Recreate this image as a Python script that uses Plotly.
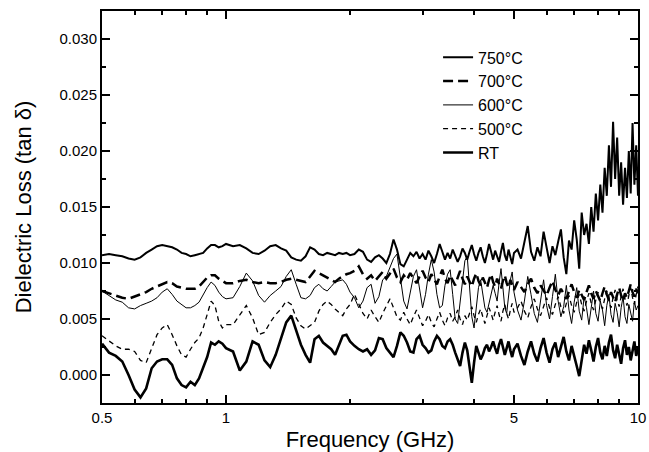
"""Dielectric loss (tan delta) against frequency, RT and annealed at 500-750 C"""

import math

import plotly.graph_objects as go

FONT = "Arial, Liberation Sans, Helvetica, sans-serif"

# frequency grid, GHz
freq_ghz = [
    0.50, 0.52, 0.54, 0.56, 0.58, 0.60, 0.62, 0.64, 0.66, 0.68, 0.70, 0.72, 0.74,
    0.76, 0.78, 0.80, 0.82, 0.84, 0.86, 0.88, 0.90, 0.92, 0.94, 0.96, 0.98, 1.00,
    1.04, 1.08, 1.12, 1.16, 1.20, 1.24, 1.28, 1.32, 1.36, 1.40, 1.44, 1.48, 1.52,
    1.56, 1.60, 1.64, 1.68, 1.72, 1.76, 1.80, 1.84, 1.88, 1.92, 1.96, 2.00,
    2.05, 2.10, 2.15, 2.20, 2.25, 2.30, 2.35, 2.40, 2.45, 2.50, 2.55, 2.60, 2.65,
    2.70, 2.75, 2.80, 2.85, 2.90, 2.95, 3.00, 3.05, 3.10, 3.15, 3.20, 3.25, 3.30,
    3.35, 3.40, 3.45, 3.50, 3.55, 3.60, 3.65, 3.70, 3.75, 3.80, 3.85, 3.90, 3.95,
    4.00, 4.05, 4.10, 4.15, 4.20, 4.25, 4.30, 4.35, 4.40, 4.45, 4.50, 4.55, 4.60,
    4.65, 4.70, 4.75, 4.80, 4.85, 4.90, 4.95, 5.00,
    5.1, 5.2, 5.3, 5.4, 5.5, 5.6, 5.7, 5.8, 5.9, 6.0, 6.1, 6.2, 6.3, 6.4, 6.5,
    6.6, 6.7, 6.8, 6.9, 7.0, 7.1, 7.2, 7.3, 7.4, 7.5, 7.6, 7.7, 7.8, 7.9, 8.0,
    8.1, 8.2, 8.3, 8.4, 8.5, 8.6, 8.7, 8.8, 8.9, 9.0, 9.1, 9.2, 9.3, 9.4, 9.5,
    9.6, 9.7, 9.8, 9.9, 10.0,
]

loss_750c = [
    0.0107, 0.0108, 0.0107, 0.0106, 0.0104, 0.0103, 0.0105, 0.0109, 0.0112, 0.0115, 0.0116, 0.0115, 0.0114,
    0.0112, 0.0109, 0.0108, 0.0106, 0.0107, 0.0108, 0.0109, 0.0113, 0.0116, 0.0116, 0.0114, 0.0115, 0.0117,
    0.0115, 0.0116, 0.0113, 0.0109, 0.0108, 0.0111, 0.0115, 0.0116, 0.0113, 0.0111, 0.0105, 0.0103, 0.0102,
    0.0106, 0.0114, 0.0112, 0.0108, 0.0107, 0.0109, 0.0108, 0.0107, 0.0109, 0.0108, 0.0109, 0.0107,
    0.0108, 0.0112, 0.0110, 0.0103, 0.0101, 0.0105, 0.0107, 0.0104, 0.0100, 0.0108, 0.0121, 0.0112, 0.0099,
    0.0097, 0.0103, 0.0109, 0.0106, 0.0110, 0.0104, 0.0108, 0.0103, 0.0111, 0.0106, 0.0100, 0.0108, 0.0117,
    0.0110, 0.0103, 0.0109, 0.0104, 0.0112, 0.0107, 0.0101, 0.0106, 0.0113, 0.0109, 0.0103, 0.0110, 0.0116,
    0.0108, 0.0102, 0.0109, 0.0114, 0.0106, 0.0100, 0.0108, 0.0117, 0.0110, 0.0103, 0.0111, 0.0106, 0.0101,
    0.0110, 0.0118, 0.0107, 0.0102, 0.0112, 0.0105, 0.0099, 0.0109,
    0.0112, 0.0104, 0.0118, 0.0133, 0.0110, 0.0102, 0.0114, 0.0106, 0.0128, 0.0112, 0.0100, 0.0115, 0.0107,
    0.0119, 0.0130, 0.0105, 0.0090, 0.0120, 0.0112, 0.0138, 0.0121, 0.0095, 0.0145, 0.0125, 0.0135, 0.0117,
    0.0150, 0.0128, 0.0162, 0.0138, 0.0170, 0.0145, 0.0185, 0.0160, 0.0205, 0.0168, 0.0226, 0.0175, 0.0212,
    0.0160, 0.0190, 0.0152, 0.0185, 0.0158, 0.0200, 0.0162, 0.0225, 0.0170, 0.0205, 0.0160,
]

loss_700c = [
    0.0075, 0.0073, 0.0071, 0.0069, 0.0068, 0.0070, 0.0072, 0.0074, 0.0077, 0.0079, 0.0081, 0.0083, 0.0082,
    0.0079, 0.0078, 0.0077, 0.0077, 0.0077, 0.0079, 0.0083, 0.0087, 0.0089, 0.0089, 0.0086, 0.0084, 0.0082,
    0.0082, 0.0084, 0.0085, 0.0083, 0.0082, 0.0083, 0.0082, 0.0082, 0.0083, 0.0085, 0.0086, 0.0085, 0.0084,
    0.0083, 0.0088, 0.0093, 0.0091, 0.0089, 0.0087, 0.0085, 0.0083, 0.0086, 0.0088, 0.0090, 0.0091,
    0.0093, 0.0097, 0.0090, 0.0086, 0.0089, 0.0084, 0.0088, 0.0092, 0.0086, 0.0090, 0.0095, 0.0087, 0.0083,
    0.0089, 0.0085, 0.0091, 0.0086, 0.0082, 0.0088, 0.0093, 0.0087, 0.0083, 0.0090, 0.0086, 0.0081, 0.0088,
    0.0094, 0.0086, 0.0082, 0.0089, 0.0085, 0.0080, 0.0087, 0.0093, 0.0086, 0.0081, 0.0088, 0.0084, 0.0079,
    0.0086, 0.0091, 0.0084, 0.0080, 0.0087, 0.0083, 0.0078, 0.0085, 0.0090, 0.0083, 0.0079, 0.0086, 0.0081,
    0.0077, 0.0084, 0.0089, 0.0082, 0.0078, 0.0085, 0.0080, 0.0076,
    0.0083, 0.0079, 0.0074, 0.0081, 0.0086, 0.0078, 0.0073, 0.0080, 0.0076, 0.0071, 0.0078, 0.0084, 0.0076,
    0.0071, 0.0077, 0.0073, 0.0068, 0.0075, 0.0081, 0.0074, 0.0069, 0.0076, 0.0072, 0.0067, 0.0074, 0.0080,
    0.0073, 0.0068, 0.0075, 0.0071, 0.0066, 0.0073, 0.0079, 0.0072, 0.0067, 0.0074, 0.0070, 0.0065, 0.0072,
    0.0078, 0.0071, 0.0066, 0.0073, 0.0069, 0.0075, 0.0081, 0.0074, 0.0070, 0.0077, 0.0073,
]

loss_600c = [
    0.0075, 0.0071, 0.0067, 0.0065, 0.0060, 0.0059, 0.0062, 0.0064, 0.0066, 0.0069, 0.0074, 0.0077, 0.0072,
    0.0066, 0.0063, 0.0060, 0.0060, 0.0062, 0.0065, 0.0072, 0.0078, 0.0083, 0.0080, 0.0074, 0.0070, 0.0068,
    0.0069, 0.0079, 0.0091, 0.0084, 0.0071, 0.0065, 0.0071, 0.0075, 0.0079, 0.0088, 0.0094, 0.0081, 0.0069,
    0.0068, 0.0071, 0.0078, 0.0081, 0.0077, 0.0075, 0.0079, 0.0083, 0.0084, 0.0085, 0.0081, 0.0074,
    0.0069, 0.0060, 0.0066, 0.0078, 0.0081, 0.0064, 0.0070, 0.0085, 0.0088, 0.0096, 0.0104, 0.0108, 0.0085,
    0.0066, 0.0059, 0.0075, 0.0088, 0.0094, 0.0078, 0.0060, 0.0072, 0.0090, 0.0103, 0.0092, 0.0072, 0.0060,
    0.0062, 0.0080, 0.0090, 0.0094, 0.0072, 0.0050, 0.0046, 0.0065, 0.0088, 0.0102, 0.0106, 0.0078, 0.0052,
    0.0042, 0.0060, 0.0078, 0.0085, 0.0072, 0.0060, 0.0056, 0.0065, 0.0074, 0.0080, 0.0073, 0.0066, 0.0082,
    0.0095, 0.0078, 0.0060, 0.0055, 0.0068, 0.0085, 0.0092, 0.0074,
    0.0058, 0.0049, 0.0066, 0.0088, 0.0072, 0.0055, 0.0047, 0.0068, 0.0085, 0.0062, 0.0050, 0.0070, 0.0090,
    0.0066, 0.0052, 0.0061, 0.0080, 0.0058, 0.0046, 0.0065, 0.0078, 0.0057, 0.0049, 0.0070, 0.0060, 0.0045,
    0.0063, 0.0075, 0.0055, 0.0048, 0.0066, 0.0058, 0.0044, 0.0062, 0.0072, 0.0054, 0.0047, 0.0064, 0.0056,
    0.0043, 0.0060, 0.0070, 0.0052, 0.0046, 0.0063, 0.0055, 0.0048, 0.0066, 0.0058, 0.0062,
]

loss_500c = [
    0.0035, 0.0030, 0.0026, 0.0023, 0.0023, 0.0021, 0.0013, 0.0011, 0.0024, 0.0036, 0.0042, 0.0045, 0.0036,
    0.0026, 0.0018, 0.0016, 0.0023, 0.0029, 0.0033, 0.0042, 0.0054, 0.0066, 0.0062, 0.0048, 0.0042, 0.0045,
    0.0045, 0.0054, 0.0062, 0.0051, 0.0036, 0.0038, 0.0047, 0.0054, 0.0059, 0.0066, 0.0063, 0.0051, 0.0044,
    0.0041, 0.0044, 0.0047, 0.0057, 0.0063, 0.0066, 0.0063, 0.0059, 0.0056, 0.0053, 0.0059, 0.0063,
    0.0072, 0.0064, 0.0055, 0.0050, 0.0058, 0.0052, 0.0047, 0.0055, 0.0061, 0.0068, 0.0060, 0.0052, 0.0049,
    0.0056, 0.0050, 0.0045, 0.0052, 0.0058, 0.0051, 0.0044, 0.0048, 0.0054, 0.0047, 0.0043, 0.0050, 0.0056,
    0.0049, 0.0044, 0.0051, 0.0055, 0.0048, 0.0052, 0.0058, 0.0050, 0.0045, 0.0053, 0.0049, 0.0056, 0.0061,
    0.0053, 0.0047, 0.0054, 0.0059, 0.0052, 0.0046, 0.0053, 0.0060, 0.0055, 0.0049, 0.0056, 0.0062, 0.0054,
    0.0048, 0.0057, 0.0063, 0.0055, 0.0050, 0.0058, 0.0064, 0.0056,
    0.0060, 0.0066, 0.0057, 0.0051, 0.0061, 0.0068, 0.0059, 0.0053, 0.0062, 0.0069, 0.0060, 0.0054, 0.0063,
    0.0070, 0.0061, 0.0055, 0.0064, 0.0071, 0.0062, 0.0056, 0.0065, 0.0072, 0.0063, 0.0057, 0.0066, 0.0073,
    0.0064, 0.0058, 0.0067, 0.0074, 0.0065, 0.0059, 0.0068, 0.0075, 0.0066, 0.0060, 0.0069, 0.0076, 0.0067,
    0.0061, 0.0070, 0.0077, 0.0068, 0.0062, 0.0071, 0.0078, 0.0069, 0.0063, 0.0072, 0.0079,
]

loss_rt = [
    0.0028, 0.0020, 0.0017, 0.0012, 0.0000, -0.0013, -0.0020, -0.0012, 0.0006, 0.0012, 0.0014, 0.0014, 0.0009,
    -0.0003, -0.0009, -0.0011, -0.0006, -0.0009, -0.0003, 0.0006, 0.0016, 0.0029, 0.0027, 0.0030, 0.0028, 0.0024,
    0.0021, 0.0004, 0.0012, 0.0030, 0.0027, 0.0013, 0.0007, 0.0018, 0.0032, 0.0047, 0.0053, 0.0039, 0.0027,
    0.0018, 0.0011, 0.0032, 0.0035, 0.0029, 0.0026, 0.0023, 0.0018, 0.0026, 0.0035, 0.0036, 0.0030,
    0.0026, 0.0023, 0.0021, 0.0023, 0.0018, 0.0022, 0.0033, 0.0032, 0.0024, 0.0020, 0.0016, 0.0026, 0.0038,
    0.0035, 0.0029, 0.0021, 0.0020, 0.0032, 0.0035, 0.0027, 0.0024, 0.0020, 0.0022, 0.0030, 0.0035, 0.0032,
    0.0026, 0.0024, 0.0030, 0.0032, 0.0027, 0.0020, 0.0013, 0.0008, 0.0020, 0.0029, 0.0022, 0.0008, -0.0007,
    0.0011, 0.0026, 0.0020, 0.0014, 0.0018, 0.0024, 0.0027, 0.0021, 0.0025, 0.0030, 0.0024, 0.0019, 0.0027,
    0.0032, 0.0025, 0.0018, 0.0024, 0.0030, 0.0022, 0.0016, 0.0023,
    0.0028, 0.0017, 0.0009, 0.0021, 0.0030, 0.0019, 0.0012, 0.0024, 0.0033, 0.0020, 0.0011, 0.0023, 0.0029,
    0.0016, 0.0024, 0.0034, 0.0021, 0.0013, 0.0026, 0.0018, 0.0008, -0.0001, 0.0015, 0.0027, 0.0019, 0.0031,
    0.0022, 0.0012, 0.0025, 0.0033, 0.0020, 0.0014, 0.0026, 0.0017, 0.0029, 0.0036, 0.0022, 0.0015, 0.0027,
    0.0019, 0.0010, 0.0024, 0.0031, 0.0018, 0.0025, 0.0013, 0.0022, 0.0030, 0.0017, 0.0024,
]

series_names = ["750°C", "700°C", "600°C", "500°C", "RT"]
series_values = [loss_750c, loss_700c, loss_600c, loss_500c, loss_rt]

# line look for each series, same order as series_names
line_styles = [
    dict(width=2.0, dash="solid"),
    dict(width=2.5, dash="10px,5px"),
    dict(width=1.0, dash="solid"),
    dict(width=1.3, dash="5px,4px"),
    dict(width=2.6, dash="solid"),
]

x_major = [0.5, 1, 5, 10]
x_major_text = ["0.5", "1", "5", "10"]
x_minor = [0.6, 0.7, 0.8, 0.9, 2, 3, 4, 6, 7, 8, 9]

for values in series_values:
    assert len(values) == len(freq_ghz), len(values)

fig = go.Figure()

for name, values, style in zip(series_names, series_values, line_styles):
    fig.add_trace(
        go.Scatter(x=freq_ghz, y=values, mode="lines", name=name, line=dict(color="black", **style))
    )

axis_common = dict(
    showline=True,
    linecolor="black",
    linewidth=2,
    mirror="allticks",
    ticks="inside",
    ticklen=8,
    tickwidth=1.5,
    tickcolor="black",
    showgrid=False,
    zeroline=False,
    automargin=False,
    tickfont=dict(family=FONT, size=15, color="black"),
)

fig.update_layout(
    width=649,
    height=452,
    margin=dict(l=102, r=11, t=11, b=49),
    paper_bgcolor="white",
    plot_bgcolor="white",
    font=dict(family=FONT, color="black"),
    legend=dict(
        x=0.627,
        y=0.925,
        xanchor="left",
        yanchor="top",
        font=dict(family=FONT, size=16, color="black"),
        bgcolor="rgba(0,0,0,0)",
        tracegroupgap=0,
    ),
    xaxis=dict(
        type="log",
        range=[math.log10(0.5), 1],
        tickvals=x_major,
        ticktext=x_major_text,
        minor=dict(tickvals=x_minor, ticks="inside", ticklen=4, tickwidth=1.5, tickcolor="black"),
        title=dict(text="Frequency (GHz)", font=dict(family=FONT, size=22), standoff=7),
        **axis_common,
    ),
    yaxis=dict(
        range=[-0.0025, 0.0325],
        tick0=0,
        dtick=0.005,
        tickformat=".3f",
        minor=dict(dtick=0.0025, ticks="inside", ticklen=4, tickwidth=1.5, tickcolor="black"),
        title=dict(text="Dielectric Loss (tan δ)", font=dict(family=FONT, size=22), standoff=22),
        **axis_common,
    ),
)

# the page body has a default margin; drop it so the figure sits at the window corner
fig.write_html(
    "out.html",
    config={"displayModeBar": False},
    post_script="document.body.style.margin = '0';",
)
